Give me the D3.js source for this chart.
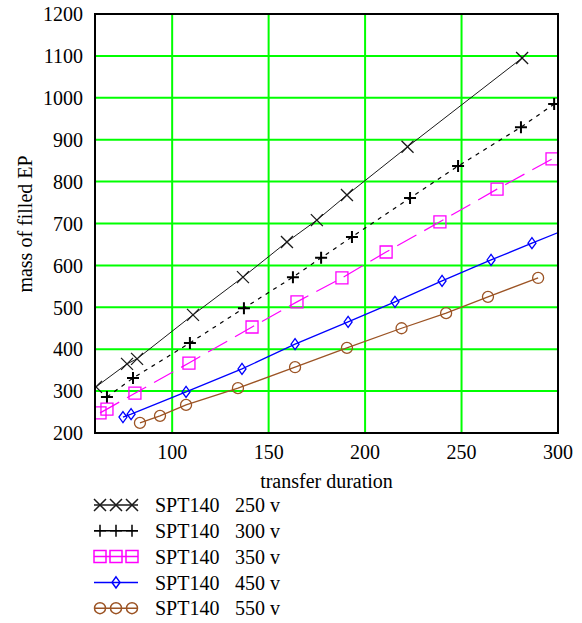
<!DOCTYPE html>
<html>
<head>
<meta charset="utf-8">
<script src="https://cdn.jsdelivr.net/npm/d3@7"></script>
<style>
  body { margin: 0; background: #fff; }
  text { font-family: "Liberation Serif", "DejaVu Serif", serif; fill: #000; }
</style>
</head>
<body>
<div id="chart"></div>
<script>
// values
const dur250 = [60.5, 76.6, 81.8, 110.8, 136.7, 159.5, 175, 190.6, 222, 281.4];
const mass250 = [310, 365, 377, 482, 572, 656, 708, 768, 883, 1095];

const dur300 = [66.2, 79.7, 109.2, 137.2, 162.6, 177.2, 193.2, 223.3, 248.2, 280.8, 298];
const mass300 = [286, 331, 415, 498, 572, 618, 668, 761, 837, 930, 985];

const dur350 = [62.6, 66.2, 80.7, 108.7, 141.4, 164.7, 188, 210.9, 238.8, 268.4, 296.9];
const mass350 = [248, 257, 295, 367, 453, 513, 570, 632, 704, 782, 854];

const dur450 = [74.5, 78.7, 107.2, 136.2, 163.7, 191.2, 215.5, 239.9, 265.3, 286.5, 310];
const mass450 = [238, 245, 298, 353, 412, 465, 513, 563, 613, 653, 697];

const dur550 = [83.3, 93.7, 107.2, 134.1, 163.7, 190.6, 218.9, 242, 263.7, 289.7];
const mass550 = [224, 241, 267, 307, 357, 403, 450, 486, 525, 570];

const seriesNames = ["SPT140", "SPT140", "SPT140", "SPT140", "SPT140"];
const voltages = ["250 v", "300 v", "350 v", "450 v", "550 v"];

const xTicks = [100, 150, 200, 250, 300];
const yTicks = [200, 300, 400, 500, 600, 700, 800, 900, 1000, 1100, 1200];

const margin = {top: 14, right: 24, bottom: 190, left: 95},
    width = 582 - margin.left - margin.right,
    height = 623 - margin.top - margin.bottom;

const series = [
    {x: dur250, y: mass250, color: "#1a1a1a", dash: null, marker: "x", w: 1},
    {x: dur300, y: mass300, color: "#000", dash: "4,5", marker: "plus", w: 1.2},
    {x: dur350, y: mass350, color: "#ff00ff", dash: "22,9", marker: "square", w: 1.2},
    {x: dur450, y: mass450, color: "#0000ff", dash: null, marker: "diamond", w: 1.3},
    {x: dur550, y: mass550, color: "#9c5425", dash: null, marker: "circle", w: 1.3}
];

// marker shapes as path strings centred on 0,0
function markerPath(type) {
    if (type === "x") return "M-6,-6L6,6M-6,6L6,-6";
    if (type === "plus") return "M-6,0L6,0M0,-6L0,6";
    if (type === "square") return "M-6,-6H6V6H-6Z";
    if (type === "diamond") return "M0,-5.5L4,0L0,5.5L-4,0Z";
    return "M-5.5,0A5.5,5.5 0 1,0 5.5,0A5.5,5.5 0 1,0 -5.5,0Z";
}

const svg = d3.select("#chart")
    .append("svg")
    .attr("width", 582)
    .attr("height", 623);

const g = svg.append("g")
    .attr("transform", `translate(${margin.left}, ${margin.top})`);

const xScale = d3.scaleLinear().domain([60, 300]).range([0, width]);
const yScale = d3.scaleLinear().domain([200, 1200]).range([height, 0]);

// green grid
g.append("g")
    .selectAll("line")
    .data(xTicks.slice(0, -1))
    .enter()
    .append("line")
    .attr("x1", d => xScale(d)).attr("x2", d => xScale(d))
    .attr("y1", 0).attr("y2", height)
    .attr("stroke", "#00ff00").attr("stroke-width", 2);

g.append("g")
    .selectAll("line")
    .data(yTicks.slice(1, -1))
    .enter()
    .append("line")
    .attr("y1", d => yScale(d)).attr("y2", d => yScale(d))
    .attr("x1", 0).attr("x2", width)
    .attr("stroke", "#00ff00").attr("stroke-width", 2);

// tick labels
g.append("g")
    .selectAll("text")
    .data(yTicks)
    .enter()
    .append("text")
    .attr("x", -12)
    .attr("y", d => yScale(d))
    .attr("dy", "0.36em")
    .attr("text-anchor", "end")
    .attr("font-size", 20)
    .text(d => d);

g.append("g")
    .selectAll("text")
    .data(xTicks)
    .enter()
    .append("text")
    .attr("x", d => xScale(d))
    .attr("y", height + 26)
    .attr("text-anchor", "middle")
    .attr("font-size", 20)
    .text(d => d);

// axis titles
g.append("text")
    .attr("x", width / 2)
    .attr("y", height + 55)
    .attr("text-anchor", "middle")
    .attr("font-size", 20)
    .text("transfer duration");

svg.append("text")
    .attr("transform", `translate(32, ${margin.top + 210}) rotate(-90)`)
    .attr("text-anchor", "middle")
    .attr("font-size", 20)
    .text("mass of filled EP");

// data
svg.append("defs").append("clipPath").attr("id", "plot-clip")
    .append("rect").attr("width", width).attr("height", height);

const plot = g.append("g").attr("clip-path", "url(#plot-clip)");

const line = d3.line()
    .x(d => xScale(d[0]))
    .y(d => yScale(d[1]));

series.forEach(function (s) {
    const pts = s.x.map((v, i) => [v, s.y[i]]);
    plot.append("path")
        .datum(pts)
        .attr("d", line)
        .attr("fill", "none")
        .attr("stroke", s.color)
        .attr("stroke-width", s.w)
        .attr("stroke-dasharray", s.dash);
    plot.append("g")
        .selectAll("path")
        .data(pts.filter(d => d[0] <= 300))
        .enter()
        .append("path")
        .attr("transform", d => `translate(${xScale(d[0])}, ${yScale(d[1])})`)
        .attr("d", markerPath(s.marker))
        .attr("fill", "none")
        .attr("stroke", s.color)
        .attr("stroke-width", s.marker === "plus" ? 2 : 1.3);
});

// frame
g.append("rect")
    .attr("width", width)
    .attr("height", height)
    .attr("fill", "none")
    .attr("stroke", "#000")
    .attr("stroke-width", 2);

// legend
const legend = svg.append("g")
    .selectAll("g")
    .data(series)
    .enter()
    .append("g")
    .attr("transform", (d, i) => `translate(0, ${505 + i * 25.8})`);

legend.append("line")
    .attr("x1", 94).attr("x2", 138)
    .attr("stroke", d => d.color)
    .attr("stroke-width", 1.5);

legend.each(function (s) {
    const offs = s.marker === "diamond" ? [116] : [100, 116, 132];
    d3.select(this).selectAll("path")
        .data(offs)
        .enter()
        .append("path")
        .attr("transform", d => `translate(${d}, 0)`)
        .attr("d", markerPath(s.marker))
        .attr("fill", "none")
        .attr("stroke", s.color)
        .attr("stroke-width", 1.5);
});

legend.append("text")
    .attr("x", 155)
    .attr("dy", "0.36em")
    .attr("font-size", 20)
    .text((d, i) => seriesNames[i]);

legend.append("text")
    .attr("x", 235)
    .attr("dy", "0.36em")
    .attr("font-size", 20)
    .text((d, i) => voltages[i]);
</script>
</body>
</html>
